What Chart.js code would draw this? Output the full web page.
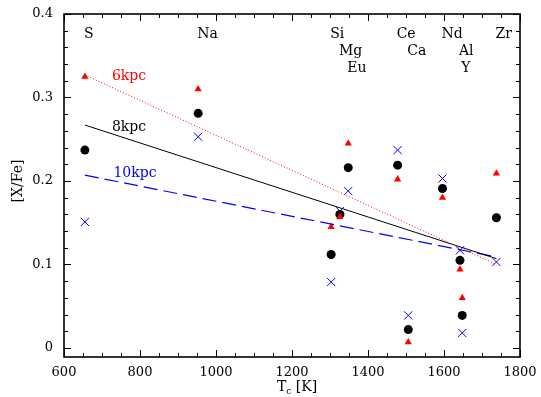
<!DOCTYPE html>
<html>
<head>
<meta charset="utf-8">
<script src="https://cdn.jsdelivr.net/npm/chart.js@4/dist/chart.umd.min.js"></script>
<style>
  html, body { margin: 0; padding: 0; background: #fff; }
  #wrap { width: 541px; height: 397px; }
</style>
</head>
<body>
<div id="wrap"><canvas id="tcChart" width="541" height="397"></canvas></div>
<script>
// condensation temperature of each element
const elements = ["S", "Na", "Si", "Mg", "Eu", "Ce", "Ca", "Nd", "Al", "Y", "Zr"];
const tc = [655, 953, 1303, 1326, 1348, 1478, 1506, 1596, 1642, 1648, 1738];
const labelRow = [0, 0, 0, 1, 2, 0, 1, 0, 1, 2, 0];

// [X/Fe] at three galactocentric radii
const xfe6 = [0.325, 0.310, 0.145, 0.157, 0.245, 0.202, 0.007, 0.180, 0.094, 0.060, 0.209];
const xfe8 = [0.237, 0.281, 0.112, 0.160, 0.216, 0.219, 0.022, 0.191, 0.105, 0.039, 0.156];
const xfe10 = [0.151, 0.253, 0.079, 0.164, 0.188, 0.237, 0.039, 0.203, 0.117, 0.018, 0.103];

// linear fits, end points at the first and last Tc
const fitTc = [655, 1738];
const fit6 = [0.327, 0.100];
const fit8 = [0.267, 0.107];
const fit10 = [0.207, 0.109];

const xTicks = [600, 800, 1000, 1200, 1400, 1600, 1800];
const yTicks = [0, 0.1, 0.2, 0.3, 0.4];

const RED = "#ff0000", BLUE = "#0000ff", BLACK = "#000000";
const SERIF = "'DejaVu Serif', 'Liberation Serif', serif";

function pts(ys) {
    return tc.map((t, i) => ({ x: t, y: ys[i] }));
}
function fitPts(ys) {
    return fitTc.map((t, i) => ({ x: t, y: ys[i] }));
}

// keep the plot box fixed: no extra room for overhanging tick labels
function noOverhang(s) {
    s.paddingTop = 0;
    s.paddingBottom = 0;
    s.paddingLeft = 0;
    s.paddingRight = 0;
}

// pgplot-like frame: inward ticks on all four sides, element names and fit labels
const framePlugin = {
    id: "frame",
    afterDatasetsDraw(chart) {
        const ctx = chart.ctx;
        const a = chart.chartArea;
        const xs = chart.scales.x, ys = chart.scales.y;
        ctx.save();
        ctx.strokeStyle = BLACK;
        ctx.lineWidth = 1;
        ctx.beginPath();
        for (let v = 600; v <= 1800; v += 50) {
            const px = Math.round(xs.getPixelForValue(v)) + 0.5;
            const len = v % 200 === 0 ? 7 : 4;
            ctx.moveTo(px, a.bottom); ctx.lineTo(px, a.bottom - len);
            ctx.moveTo(px, a.top); ctx.lineTo(px, a.top + len);
        }
        for (let k = 0; k <= 20; k++) {
            const v = k * 0.02;
            const py = Math.round(ys.getPixelForValue(v)) + 0.5;
            const len = k % 5 === 0 ? 7 : 4;
            ctx.moveTo(a.left, py); ctx.lineTo(a.left + len, py);
            ctx.moveTo(a.right, py); ctx.lineTo(a.right - len, py);
        }
        ctx.stroke();
        ctx.lineWidth = 1.6;
        ctx.strokeRect(a.left, a.top, a.right - a.left, a.bottom - a.top);

        // element names, left aligned at their Tc
        ctx.font = "14px " + SERIF;
        ctx.fillStyle = BLACK;
        ctx.textAlign = "left";
        ctx.textBaseline = "middle";
        elements.forEach((el, i) => {
            ctx.fillText(el, xs.getPixelForValue(tc[i]) - 1, 34 + labelRow[i] * 17);
        });

        // fit labels
        ctx.textAlign = "center";
        ctx.fillStyle = RED;
        ctx.fillText("6kpc", 129, 76);
        ctx.fillStyle = BLACK;
        ctx.fillText("8kpc", 129, 127);
        ctx.fillStyle = BLUE;
        ctx.fillText("10kpc", 135, 173);

        // axis titles
        ctx.fillStyle = BLACK;
        ctx.textAlign = "left";
        ctx.textBaseline = "alphabetic";
        const t1 = "T", t2 = " [K]";
        ctx.font = "9px " + SERIF;
        const wc = ctx.measureText("c").width;
        ctx.font = "14px " + SERIF;
        const w1 = ctx.measureText(t1).width, w2 = ctx.measureText(t2).width;
        const x0 = 297 - (w1 + wc + w2) / 2;
        ctx.fillText(t1, x0, 391);
        ctx.font = "9px " + SERIF;
        ctx.fillText("c", x0 + w1, 394);
        ctx.font = "14px " + SERIF;
        ctx.fillText(t2, x0 + w1 + wc, 391);

        ctx.translate(18, 181);
        ctx.rotate(-Math.PI / 2);
        ctx.textAlign = "center";
        ctx.textBaseline = "middle";
        ctx.fillText("[X/Fe]", 0, 0);
        ctx.restore();
    }
};

new Chart(document.getElementById("tcChart").getContext("2d"), {
    type: "scatter",
    data: {
        datasets: [
            { label: "6kpc fit", data: fitPts(fit6), showLine: true, borderColor: RED, borderWidth: 1, borderDash: [1, 2], pointRadius: 0 },
            { label: "8kpc fit", data: fitPts(fit8), showLine: true, borderColor: BLACK, borderWidth: 1, pointRadius: 0 },
            { label: "10kpc fit", data: fitPts(fit10), showLine: true, borderColor: BLUE, borderWidth: 1.2, borderDash: [14, 6], pointRadius: 0 },
            { label: "6kpc", data: pts(xfe6), pointStyle: "triangle", pointRadius: 4.2, backgroundColor: RED, borderColor: RED, borderWidth: 0 },
            { label: "8kpc", data: pts(xfe8), pointStyle: "circle", pointRadius: 4.5, backgroundColor: BLACK, borderColor: BLACK, borderWidth: 0 },
            { label: "10kpc", data: pts(xfe10), pointStyle: "crossRot", pointRadius: 5.8, borderColor: BLUE, borderWidth: 1 }
        ]
    },
    options: {
        responsive: false,
        animation: false,
        layout: { padding: { left: 0, right: 21, top: 14, bottom: 0 } },
        plugins: {
            legend: { display: false },
            tooltip: { enabled: false }
        },
        scales: {
            x: {
                type: "linear",
                min: 600,
                max: 1800,
                grid: { display: false, drawTicks: false },
                border: { display: false },
                afterBuildTicks: (s) => { s.ticks = xTicks.map(v => ({ value: v })); },
                afterFit: (s) => { s.height = 40; noOverhang(s); },
                ticks: {
                    padding: 8,
                    maxRotation: 0,
                    color: BLACK,
                    font: { family: SERIF, size: 13 },
                    callback: (v) => String(v)
                }
            },
            y: {
                type: "linear",
                min: -0.0108,
                max: 0.4,
                grid: { display: false, drawTicks: false },
                border: { display: false },
                afterBuildTicks: (s) => { s.ticks = yTicks.map(v => ({ value: v })); },
                afterFit: (s) => { s.width = 64; noOverhang(s); },
                ticks: {
                    padding: 11,
                    color: BLACK,
                    font: { family: SERIF, size: 13 },
                    callback: (v) => v === 0 ? "0" : v.toFixed(1)
                }
            }
        }
    },
    plugins: [framePlugin]
});
</script>
</body>
</html>
